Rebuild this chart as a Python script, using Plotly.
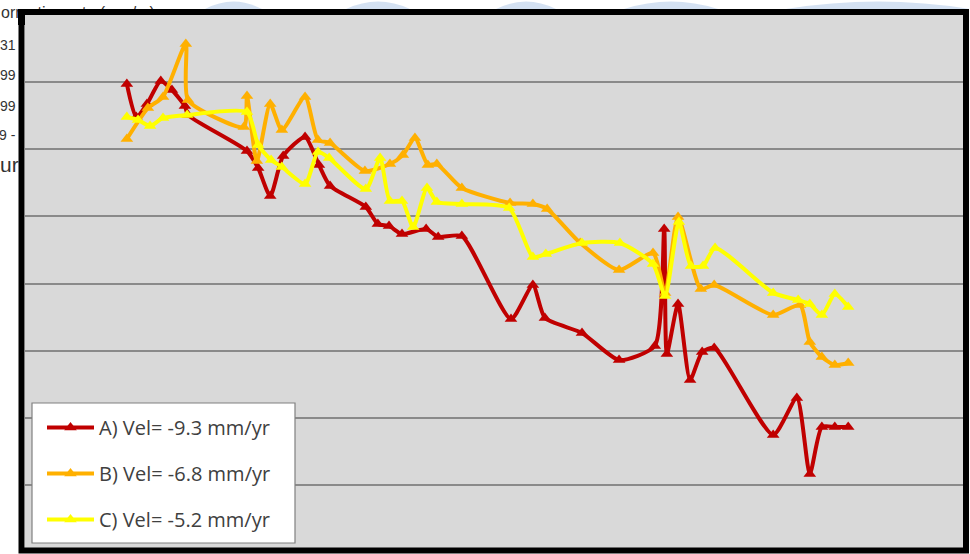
import plotly.graph_objects as go

# ---- data: displacement time series (mm) at three sites ----
years_a = [1993.28, 1993.49, 1993.73, 1994.04, 1994.29, 1994.58, 1994.65, 1995.97, 1996.22, 1996.49,
           1996.78, 1997.27, 1997.58, 1997.83, 1998.63, 1998.90, 1999.15, 1999.44, 1999.98, 2000.25,
           2000.78, 2001.88, 2002.37, 2002.64, 2003.47, 2004.30, 2005.10, 2005.31, 2005.37, 2005.62,
           2005.89, 2006.16, 2006.43, 2007.75, 2008.28, 2008.57, 2008.84, 2009.13, 2009.43]
disp_a = [29.2, 14.4, 20.2, 30.5, 26.5, 19.3, 15.3, -0.8, -8.4, -20.9,
          -3.0, 5.5, -7.0, -16.4, -25.8, -33.4, -34.3, -37.9, -35.6, -39.2,
          -38.8, -75.9, -60.7, -75.4, -82.1, -94.2, -87.9, -35.6, -91.5, -69.2,
          -103.1, -90.6, -88.8, -127.7, -111.2, -145.1, -124.1, -124.1, -124.1]

years_b = [1993.28, 1993.75, 1994.09, 1994.60, 1994.65, 1995.90, 1995.97, 1996.19, 1996.49, 1996.75,
           1997.27, 1997.56, 1997.83, 1998.61, 1999.17, 1999.46, 1999.73, 2000.02, 2000.22, 2000.78,
           2001.86, 2002.37, 2002.69, 2003.43, 2004.30, 2005.06, 2005.33, 2005.62, 2006.13, 2006.43,
           2007.75, 2008.35, 2008.57, 2008.84, 2009.13, 2009.43]
disp_b = [4.6, 18.4, 23.4, 47.0, 22.0, 9.9, 23.8, -5.3, 20.2, 8.6,
          23.4, 4.1, 2.8, -9.7, -6.6, -2.6, 5.0, -7.0, -6.6, -17.3,
          -24.0, -24.5, -26.7, -41.9, -54.0, -46.4, -64.2, -30.3, -62.5, -60.7,
          -74.1, -69.6, -86.1, -92.9, -96.4, -95.5]

years_c = [1993.28, 1993.53, 1993.80, 1994.09, 1994.63, 1995.97, 1996.22, 1996.51, 1996.75, 1997.27,
           1997.56, 1997.81, 1998.63, 1998.95, 1999.17, 1999.44, 1999.69, 2000.00, 2000.22, 2000.78,
           2001.84, 2002.37, 2002.66, 2003.47, 2004.32, 2005.06, 2005.33, 2005.64, 2005.91, 2006.18,
           2006.45, 2007.75, 2008.31, 2008.57, 2008.84, 2009.13, 2009.43]
disp_c = [14.4, 13.1, 10.4, 14.0, 15.3, 16.6, 1.9, -4.8, -7.9, -15.5,
          -1.2, -3.9, -17.8, -3.9, -23.1, -23.1, -34.8, -17.3, -23.6, -24.5,
          -26.3, -48.2, -46.8, -41.9, -41.9, -51.3, -65.6, -32.5, -52.2, -52.2,
          -44.1, -64.2, -67.4, -69.2, -74.1, -64.7, -70.5]

series_names = ["A) Vel= -9.3 mm/yr", "B) Vel= -6.8 mm/yr", "C) Vel= -5.2 mm/yr"]
series_colors = ["#c00000", "#ffb000", "#ffff00"]

# fragments of the surrounding page text peeking out around the chart frame
side_labels = ["31", "99", "99", "9 -"]
page_heading = "ormation rate (mm/yr)"
page_word = "ur"

# ---- geometry ----
W, H = 970, 554
ML, MR, MT, MB = 25, 7, 15, 2
PW, PH = W - ML - MR, H - MT - MB


def fx(px):
    return (px - ML) / PW


def fy(py):
    return (H - MB - py) / PH


fig = go.Figure()
for xs, ys, name, col, grp in zip([years_a, years_b, years_c], [disp_a, disp_b, disp_c],
                                  series_names, series_colors, ["a", "b", "c"]):
    fig.add_trace(go.Scatter(
        x=xs, y=ys, name=name, legendgroup=grp,
        mode="lines+markers",
        line=dict(color=col, width=4, shape="spline", smoothing=0.6),
        marker=dict(symbol="triangle-up", size=11, color=col),
    ))

annotations = []
# partial page heading, later covered by the frame pieces
annotations.append(dict(text=page_heading, x=fx(-1), y=fy(13), xref="paper", yref="paper",
                        xanchor="left", yanchor="middle", showarrow=False,
                        font=dict(family="Liberation Sans", size=16, color="#333333")))
for lab, py in zip(side_labels, [45, 75, 106, 135]):
    annotations.append(dict(text=lab, x=fx(18), y=fy(py), xref="paper", yref="paper",
                            xanchor="right", yanchor="middle", showarrow=False,
                            font=dict(family="Liberation Sans", size=14, color="#333333")))
annotations.append(dict(text=page_word, x=fx(21), y=fy(164), xref="paper", yref="paper",
                        xanchor="right", yanchor="middle", showarrow=False,
                        font=dict(family="Liberation Sans", size=21, color="#333333")))
# frame pieces drawn over the heading text
annotations.append(dict(text=" ", x=fx(18), y=fy(9), xref="paper", yref="paper",
                        xanchor="left", yanchor="top", showarrow=False, width=300, height=16,
                        bgcolor="#000000", borderpad=0, borderwidth=0))
annotations.append(dict(text=" ", x=fx(25), y=fy(15), xref="paper", yref="paper",
                        xanchor="left", yanchor="top", showarrow=False, width=300, height=12,
                        bgcolor="#d9d9d9", borderpad=0, borderwidth=0))

shapes = []
# faint light-blue logo pieces above the frame
blue_bits = [(205, 262), (346, 410), (496, 556), (624, 718), (786, 970)]
for x0, x1 in blue_bits:
    shapes.append(dict(type="path", xref="paper", yref="paper", layer="below",
                       path="M {:.5f},{:.5f} Q {:.5f},{:.5f} {:.5f},{:.5f} L {:.5f},{:.5f} Z".format(
                           fx(x0), fy(9), fx((x0 + x1) / 2), fy(-6), fx(x1), fy(9), fx(x0), fy(9)),
                       fillcolor="rgba(176,200,232,0.55)", line=dict(width=0)))
# legend box (the legend itself is drawn borderless on top of it)
shapes.append(dict(type="rect", xref="paper", yref="paper", layer="above",
                   x0=fx(32), x1=fx(295), y0=fy(543), y1=fy(403),
                   line=dict(color="#808080", width=1.2), fillcolor="white"))
# thick black chart frame
shapes.append(dict(type="rect", xref="paper", yref="paper", layer="above",
                   x0=fx(21.5), x1=fx(966), y0=fy(550.5), y1=fy(12),
                   line=dict(color="#000000", width=6), fillcolor="rgba(0,0,0,0)"))

fig.update_layout(
    width=W, height=H,
    margin=dict(l=ML, r=MR, t=MT, b=MB, pad=0),
    paper_bgcolor="white", plot_bgcolor="#d9d9d9",
    xaxis=dict(range=[1991, 2012], showgrid=False, zeroline=False, showticklabels=False,
               showline=False, ticks=""),
    yaxis=dict(range=[-180, 60], dtick=30, tick0=0, showgrid=True, gridcolor="#8a8a8a",
               gridwidth=1.5, zeroline=False, showticklabels=False, showline=False, ticks=""),
    showlegend=True,
    legend=dict(x=fx(42), y=fy(408), xanchor="left", yanchor="top",
                bgcolor="rgba(0,0,0,0)", borderwidth=0,
                font=dict(family="Open Sans", size=20, color="#404040"),
                itemwidth=47, tracegroupgap=17, traceorder="grouped"),
    annotations=annotations,
    shapes=shapes,
)

fig.write_html("out.html")
